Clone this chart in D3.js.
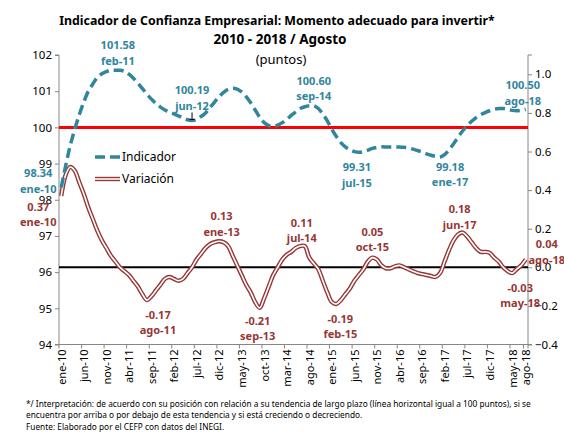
<!DOCTYPE html>
<html>
<head>
<meta charset="utf-8">
<script src="https://cdn.jsdelivr.net/npm/d3@7"></script>
<style>
body { margin: 0; background: #fff; }
svg { display: block; }
</style>
</head>
<body>
<script>
// meses en español, serie mensual ene-10 .. ago-18
var meses = ["ene", "feb", "mar", "abr", "may", "jun", "jul", "ago", "sep", "oct", "nov", "dic"];
var categorias = [];
for (var a = 10; a <= 18; a++) {
  for (var m = 0; m < 12; m++) {
    if (a == 18 && m > 7) break;
    categorias.push(meses[m] + "-" + a);
  }
}

var indicador = [
  98.34, 98.95, 99.50, 99.95, 100.35, 100.70, 101.00, 101.20, 101.38, 101.48, 101.54, 101.58,
  101.58, 101.58, 101.55, 101.47, 101.36, 101.22, 101.07, 100.92, 100.78, 100.66, 100.56, 100.48,
  100.42, 100.37, 100.32, 100.26, 100.21, 100.19, 100.22, 100.30, 100.40, 100.55, 100.70, 100.85,
  100.97, 101.05, 101.08, 101.06, 100.98, 100.85, 100.68, 100.48, 100.28, 100.13, 100.05, 100.03,
  100.06, 100.13, 100.22, 100.33, 100.43, 100.52, 100.57, 100.60, 100.60, 100.52, 100.37, 100.18,
  99.95, 99.75, 99.58, 99.46, 99.38, 99.33, 99.31, 99.33, 99.37, 99.42, 99.44, 99.46,
  99.46, 99.46, 99.46, 99.46, 99.45, 99.43, 99.40, 99.36, 99.32, 99.27, 99.23, 99.20,
  99.18, 99.25, 99.38, 99.55, 99.73, 99.90, 100.05, 100.17, 100.27, 100.35, 100.41, 100.46,
  100.50, 100.52, 100.52, 100.50, 100.47, 100.46, 100.47, 100.50
];

var variacion = [
  0.37, 0.48, 0.52, 0.50, 0.44, 0.38, 0.31, 0.25, 0.19, 0.14, 0.10, 0.06,
  0.03, 0.00, -0.02, -0.04, -0.07, -0.10, -0.14, -0.17, -0.15, -0.12, -0.09, -0.06,
  -0.05, -0.06, -0.07, -0.06, -0.03, 0.00, 0.04, 0.07, 0.10, 0.12, 0.13, 0.135,
  0.13, 0.11, 0.06, 0.01, -0.04, -0.09, -0.13, -0.18, -0.21, -0.16, -0.10, -0.04,
  0.00, 0.04, 0.065, 0.08, 0.10, 0.11, 0.11, 0.05, 0.02, -0.01, -0.07, -0.13,
  -0.18, -0.19, -0.17, -0.14, -0.11, -0.07, -0.04, -0.01, 0.03, 0.05, 0.04, 0.01,
  -0.005, -0.005, 0.005, 0.01, 0.00, -0.01, -0.02, -0.03, -0.035, -0.04, -0.045, -0.05,
  -0.03, 0.03, 0.09, 0.14, 0.17, 0.18, 0.16, 0.13, 0.10, 0.08, 0.08, 0.075,
  0.05, 0.03, 0.00, -0.02, -0.03, -0.01, 0.01, 0.04
];

var etiquetasX = ["ene-10", "jun-10", "nov-10", "abr-11", "sep-11", "feb-12", "jul-12", "dic-12",
  "may-13", "oct-13", "mar-14", "ago-14", "ene-15", "jun-15", "nov-15", "abr-16", "sep-16",
  "feb-17", "jul-17", "dic-17", "may-18", "ago-18"];
var ticksIzq = [94, 95, 96, 97, 98, 99, 100, 101, 102];
var ticksDer = [-0.4, -0.2, 0.0, 0.2, 0.4, 0.6, 0.8, 1.0];

// puntos etiquetados
var notasIndMes = ["ene-10", "feb-11", "jun-12", "sep-14", "jul-15", "ene-17", "ago-18"];
var notasIndValor = ["98.34", "101.58", "100.19", "100.60", "99.31", "99.18", "100.50"];
var notasVarMes = ["ene-10", "ago-11", "ene-13", "sep-13", "jul-14", "feb-15", "oct-15", "jun-17", "may-18", "ago-18"];
var notasVarValor = ["0.37", "-0.17", "0.13", "-0.21", "0.11", "-0.19", "0.05", "0.18", "-0.03", "0.04"];

// desplazamiento de cada etiqueta respecto a su punto (dx, dy del texto del valor)
var offInd = [[-23, -14], [-2, -25], [0, -30], [0, -25], [-2, 15], [10, 10], [-3, -24]];
var offVar = [[-23, 11], [11, 15], [-2, -26], [-2, 13], [-3, -23], [4, 15], [0, -26], [-3, -23], [8, 15], [21, -15]];

var W = 564, H = 433;
var izq = 59, der = 528, arriba = 55, abajo = 344.5;
var teal = "#31859C", rojo = "#953735", fuente = "'Noto Sans', 'Liberation Sans', sans-serif";

var svg = d3.select("body").append("svg").attr("width", W).attr("height", H)
  .style("font-family", fuente);

var x = d3.scalePoint().domain(categorias).range([izq, der]).padding(0.5);
var paso = x.step();
var yIzq = d3.scaleLinear().domain([94, 102]).range([abajo, arriba]);
var yDer = d3.scaleLinear().domain([-0.4, 1.1]).range([abajo, arriba]);

// ajusta el texto a un ancho, devuelve el tamaño
function ajustar(t, ancho) {
  var w = t.node().getComputedTextLength();
  var fs = parseFloat(t.attr("font-size")) * ancho / w;
  t.attr("font-size", fs);
  return fs;
}

// titulo
var t1 = svg.append("text").attr("x", 277).attr("y", 25).attr("text-anchor", "middle")
  .attr("font-size", 14).attr("font-weight", "bold")
  .text("Indicador de Confianza Empresarial: Momento adecuado para invertir*");
ajustar(t1, 436);
svg.append("text").attr("x", 280).attr("y", 44).attr("text-anchor", "middle")
  .attr("font-size", 13.5).attr("font-weight", "bold").text("2010 - 2018 / Agosto");
svg.append("text").attr("x", 281).attr("y", 64).attr("text-anchor", "middle")
  .attr("font-size", 13).text("(puntos)");

// ejes
var gris = "#868686";
var ejeI = svg.append("g").attr("transform", "translate(" + izq + ",0)")
  .call(d3.axisLeft(yIzq).tickValues(ticksIzq).tickSize(4).tickFormat(d3.format("d")));
var ejeD = svg.append("g").attr("transform", "translate(" + der + ",0)")
  .call(d3.axisRight(yDer).tickValues(ticksDer).tickSize(4).tickFormat(d3.format(".1f")));
var ejeX = svg.append("g").attr("transform", "translate(0," + abajo + ")")
  .call(d3.axisBottom(x).tickValues(etiquetasX).tickSize(0));
[ejeI, ejeD, ejeX].forEach(function (g) {
  g.select(".domain").attr("stroke", gris);
  g.selectAll(".tick line").attr("stroke", gris);
  g.selectAll("text").attr("fill", "#000").attr("font-size", 11.5).style("font-family", fuente);
});
ejeD.select(".domain").attr("d", "M4," + arriba + "H0V" + abajo + "H4");
ejeI.select(".domain").attr("d", "M-4," + arriba + "H0V" + abajo + "H-4");
ejeX.select(".domain").attr("d", "M" + izq + ",0H" + der);
ejeX.selectAll(".tick text")
  .attr("transform", "rotate(-90)").attr("text-anchor", "end")
  .attr("x", -5).attr("y", 0).attr("dy", "0.35em").attr("font-size", 11);
// marcas entre categorias
ejeX.selectAll(".marca").data(etiquetasX.concat(["fin"])).join("line").attr("class", "marca")
  .attr("x1", function (d) { return d == "fin" ? der : x(d) - paso / 2; })
  .attr("x2", function (d) { return d == "fin" ? der : x(d) - paso / 2; })
  .attr("y1", 0).attr("y2", 4).attr("stroke", gris);

// lineas de referencia
svg.append("line").attr("x1", izq).attr("x2", der).attr("y1", yIzq(100)).attr("y2", yIzq(100))
  .attr("stroke", "#FF0000").attr("stroke-width", 3);
svg.append("line").attr("x1", izq).attr("x2", der).attr("y1", yDer(0)).attr("y2", yDer(0))
  .attr("stroke", "#000").attr("stroke-width", 2);

// series
var lineaVar = d3.line().x(function (d, i) { return x(categorias[i]); })
  .y(function (d) { return yDer(d); }).curve(d3.curveCatmullRom.alpha(0.5));
var lineaInd = d3.line().x(function (d, i) { return x(categorias[i]); })
  .y(function (d) { return yIzq(d); }).curve(d3.curveCatmullRom.alpha(0.5));

svg.append("path").datum(variacion).attr("d", lineaVar).attr("fill", "none")
  .attr("stroke", rojo).attr("stroke-width", 4.4);
svg.append("path").datum(variacion).attr("d", lineaVar).attr("fill", "none")
  .attr("stroke", "#fff").attr("stroke-width", 1.6);
svg.append("path").datum(indicador).attr("d", lineaInd).attr("fill", "none")
  .attr("stroke", teal).attr("stroke-width", 3.5).attr("stroke-dasharray", "10,5");

// leyenda
svg.append("line").attr("x1", 95).attr("x2", 120).attr("y1", 157).attr("y2", 157)
  .attr("stroke", teal).attr("stroke-width", 3.5).attr("stroke-dasharray", "10,5");
svg.append("text").attr("x", 122).attr("y", 157).attr("dy", "0.35em").attr("font-size", 12).text("Indicador");
svg.append("line").attr("x1", 95).attr("x2", 120).attr("y1", 179).attr("y2", 179)
  .attr("stroke", rojo).attr("stroke-width", 4.4);
svg.append("line").attr("x1", 95).attr("x2", 120).attr("y1", 179).attr("y2", 179)
  .attr("stroke", "#fff").attr("stroke-width", 1.6);
svg.append("text").attr("x", 122).attr("y", 179).attr("dy", "0.35em").attr("font-size", 12).text("Variación");

// etiquetas de datos
function etiquetas(mesesL, valores, offs, escala, serie, color) {
  mesesL.forEach(function (mes, k) {
    var i = categorias.indexOf(mes);
    var cx = x(mes) + offs[k][0];
    var cy = escala(serie[i]) + offs[k][1];
    var g = svg.append("g").attr("fill", color).attr("font-weight", "bold")
      .attr("font-size", 11).attr("text-anchor", "middle");
    g.append("text").attr("x", cx).attr("y", cy).attr("dy", "0.35em").text(valores[k]);
    g.append("text").attr("x", cx).attr("y", cy + 15.5).attr("dy", "0.35em").text(mes);
  });
}
etiquetas(notasIndMes, notasIndValor, offInd, yIzq, indicador, teal);
etiquetas(notasVarMes, notasVarValor, offVar, yDer, variacion, rojo);

// guia jun-12
var xj = x("jun-12");
svg.append("path").attr("d", "M" + xj + "," + (yIzq(100.19) - 8) + "V" + (yIzq(100.19) - 1) + "M" + (xj - 2.5) + "," + (yIzq(100.19) - 1) + "H" + (xj + 2.5))
  .attr("stroke", "#000").attr("stroke-width", 1).attr("fill", "none");

// notas al pie, mismo tamaño para las tres lineas
var notas = [
  "*/ Interpretación: de acuerdo con su posición con relación a su tendencia de largo plazo (línea horizontal igual a 100 puntos), si se",
  "encuentra por arriba o por debajo de esta tendencia y si está creciendo o decreciendo.",
  "Fuente: Elaborado por el CEFP con datos del INEGI."
];
var lineasNota = notas.map(function (n, k) {
  return svg.append("text").attr("x", 26).attr("y", 404 + k * 11.3).attr("dy", "0.35em")
    .attr("font-size", 9).attr("fill", "#000").text(n);
});
var fsNota = ajustar(lineasNota[0], 506);
lineasNota.forEach(function (t) { t.attr("font-size", fsNota); });
</script>
</body>
</html>
